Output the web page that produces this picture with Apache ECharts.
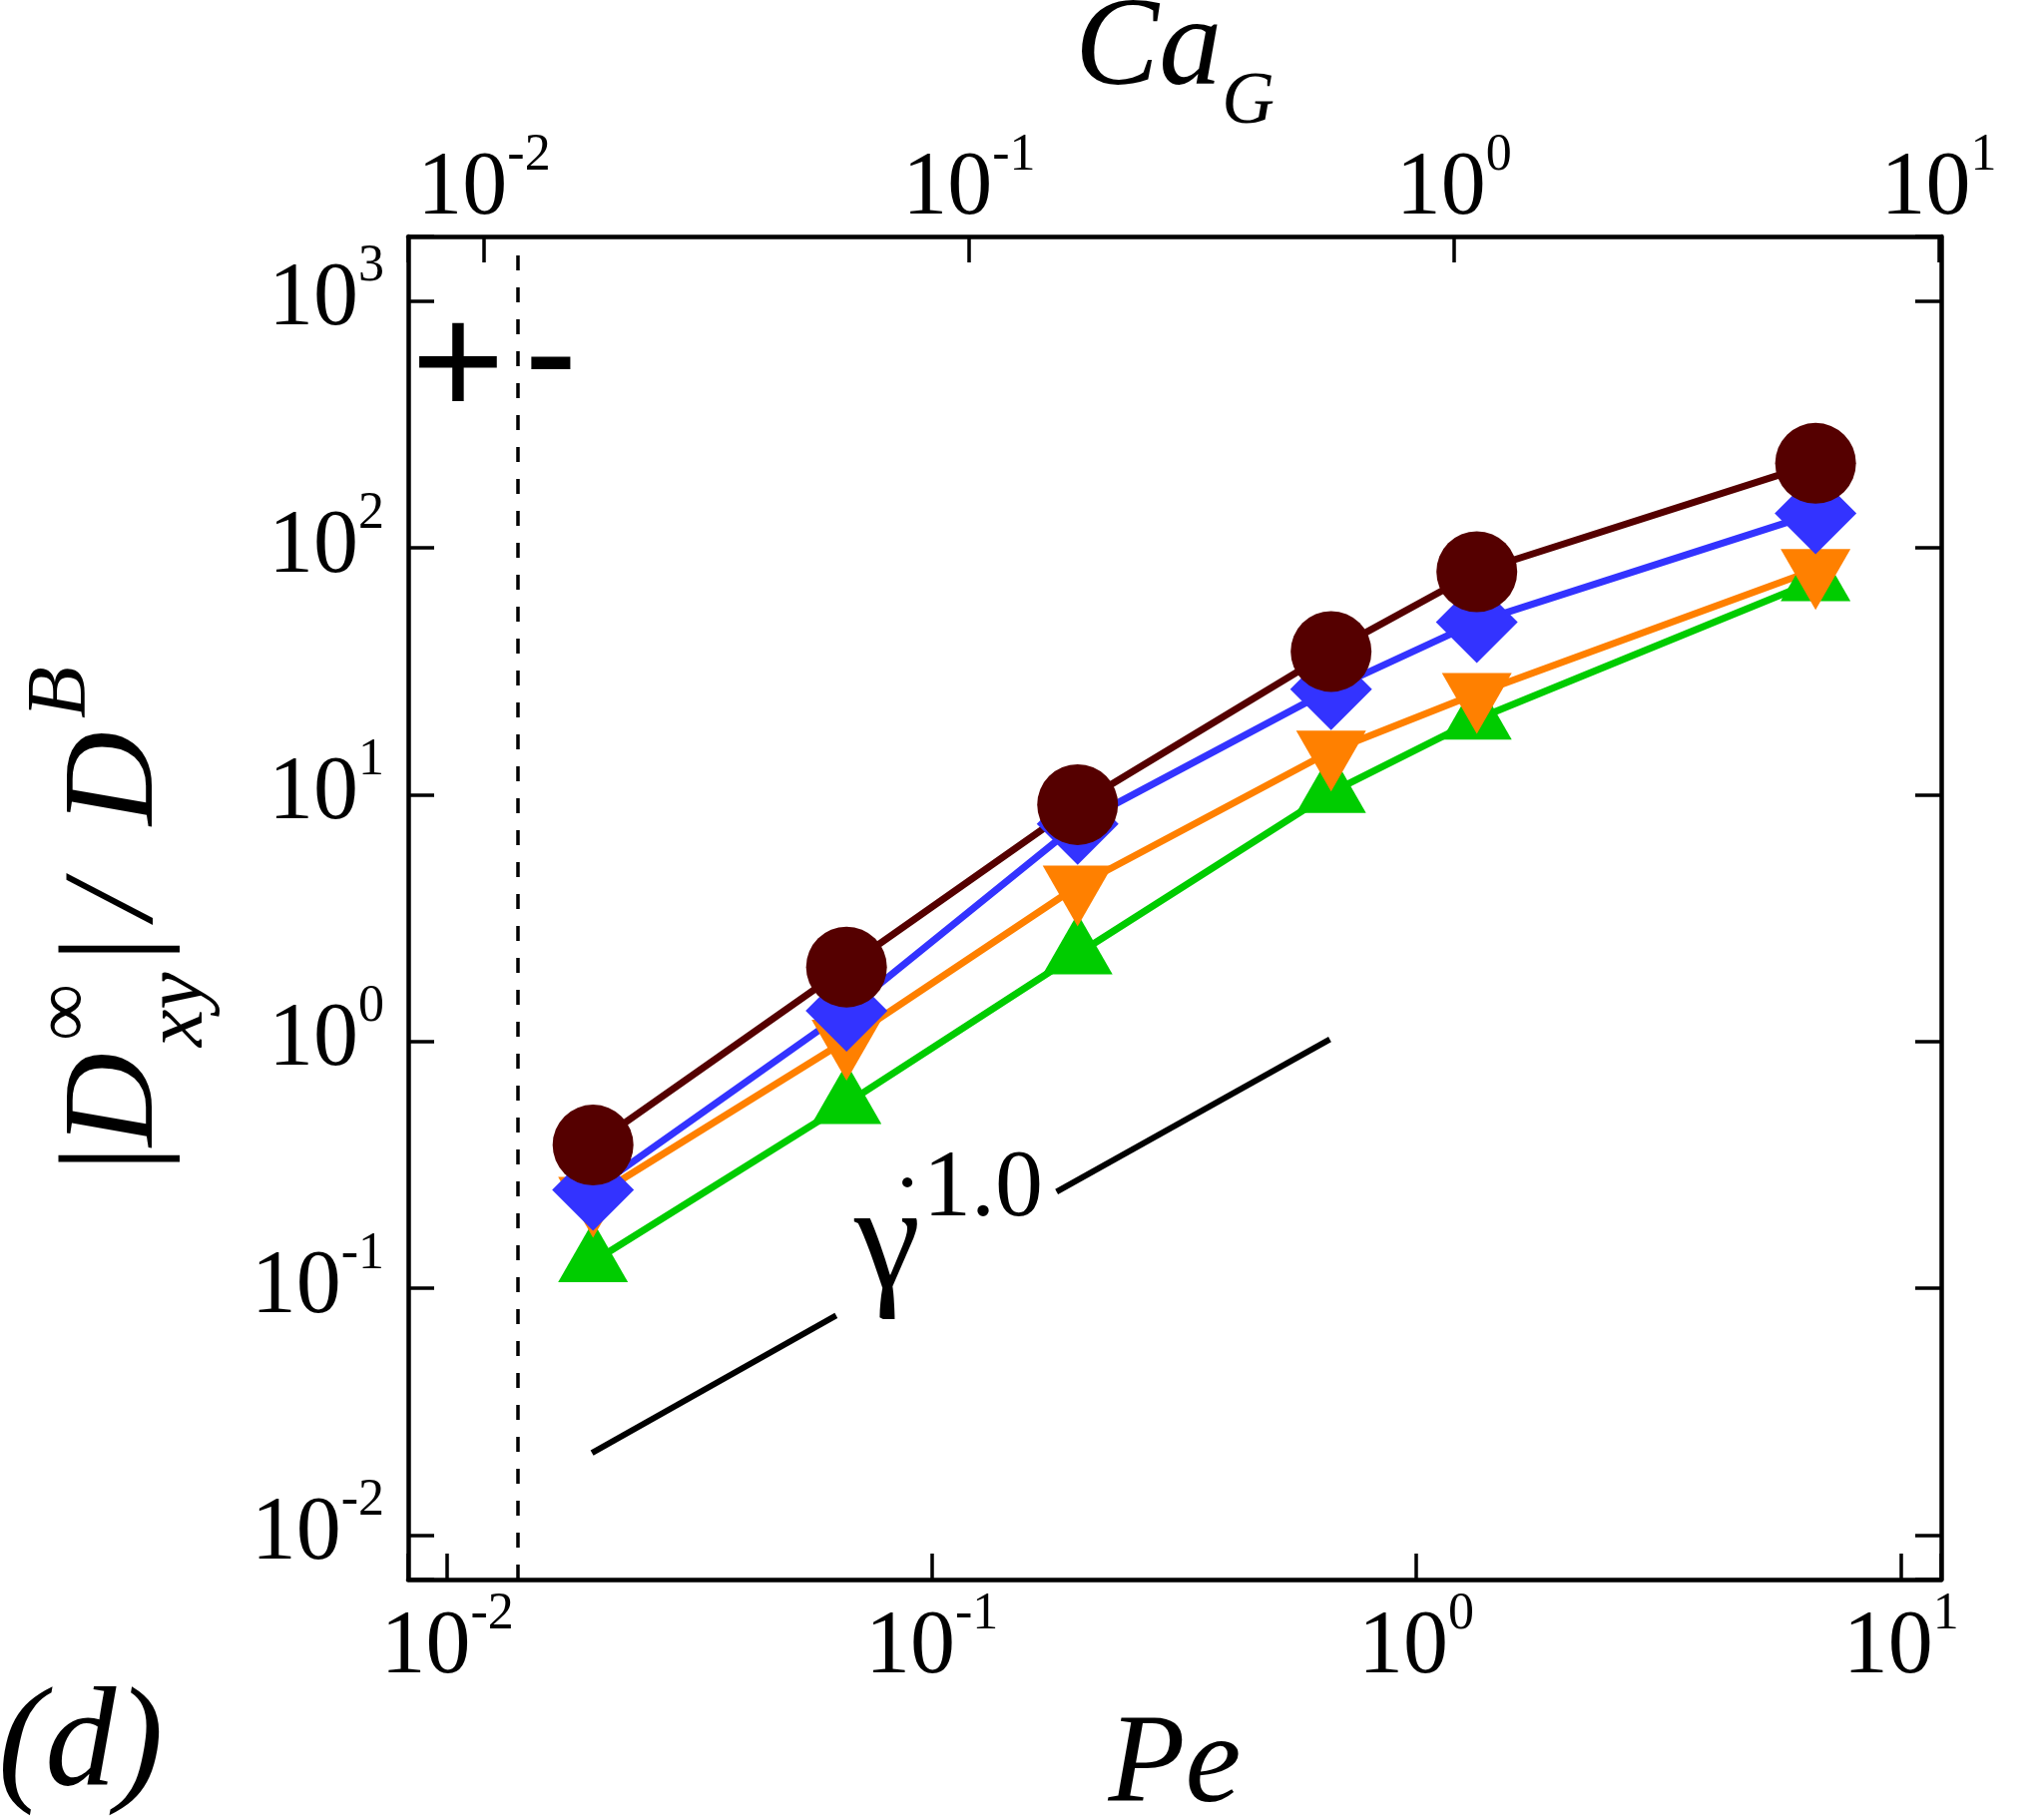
<!DOCTYPE html>
<html>
<head>
<meta charset="utf-8">
<script src="https://cdn.jsdelivr.net/npm/echarts@6.0.0/dist/echarts.min.js"></script>
<style>
html, body { margin: 0; padding: 0; background: #fff; }
#chart { width: 2048px; height: 1821px; }
</style>
</head>
<body>
<div id="chart"></div>
<script>
// Pe of the six runs
var peValues = [0.02, 0.0667, 0.2, 0.667, 1.333, 6.667];

// |Dxy| / DB, one list per data set
var circleValues = [0.38, 2.0, 9.1, 38, 80, 220];
var diamondValues = [0.25, 1.33, 7.6, 26.7, 50, 138];
var downTriValues = [0.233, 1.01, 4.26, 15.0, 25.7, 81.7];
var upTriValues = [0.128, 0.56, 2.26, 10.2, 20.2, 73.6];

// guide line, cut in two round its label
var slopeLower = [[0.0199, 0.0215], [0.0635, 0.0775]];
var slopeUpper = [[0.181, 0.246], [0.663, 1.02]];

// sign change of Dxy
var signChangePe = 0.014;

// axis ranges
var peRange = [0.00831, 12.11];
var caRange = [0.006975, 10.12];
var yRange = [0.006594, 1826];

var SERIF = 'Liberation Serif';

function pairs(xs, ys) {
    return xs.map(function (x, i) { return [x, ys[i]]; });
}

// 10^n labels, nothing for the non decade end ticks
function powLabel(v) {
    var e = Math.log10(v);
    var r = Math.round(e);
    if (Math.abs(e - r) > 1e-6) return '';
    return '{b|10}{s|' + (r < 0 ? '-' + (-r) : r) + '}';
}
var powRich = {
    b: { fontFamily: SERIF, fontSize: 90, lineHeight: 120, color: '#000' },
    s: { fontFamily: SERIF, fontSize: 52, lineHeight: 52, verticalAlign: 'top', color: '#000' }
};

var axisLineStyle = { color: '#000', width: 4.5 };
var tickStyle = { show: true, inside: true, length: 26, lineStyle: { color: '#000', width: 3.5 } };

function midY(baseline, size) {
    return baseline - 0.3375 * size;
}
// plain text piece for the graphic layer
function txt(str, x, y, size, italic, family, align) {
    return {
        type: 'text', x: x, y: y,
        style: {
            text: str, fill: '#000',
            fontFamily: family || SERIF, fontSize: size,
            fontStyle: italic ? 'italic' : 'normal',
            align: align || 'left', verticalAlign: 'middle'
        }
    };
}

var myChart = echarts.init(document.getElementById('chart'), null, { renderer: 'canvas' });

myChart.setOption({
    backgroundColor: '#fff',
    animation: false,
    grid: { left: 409, top: 237, right: 103, bottom: 238, containLabel: false, outerBoundsMode: 'none' },
    xAxis: [
        {
            type: 'log', logBase: 10, position: 'bottom',
            min: peRange[0], max: peRange[1],
            name: 'Pe', nameLocation: 'middle', nameGap: 126, nameMoveOverlap: false,
            nameTextStyle: { fontFamily: SERIF, fontStyle: 'italic', fontSize: 126, lineHeight: 126, color: '#000' },
            axisLine: { show: true, onZero: false, lineStyle: axisLineStyle },
            axisTick: tickStyle,
            minorTick: { show: false },
            splitLine: { show: false },
            axisLabel: { formatter: powLabel, rich: powRich, margin: 9 }
        },
        {
            type: 'log', logBase: 10, position: 'top',
            min: caRange[0], max: caRange[1],
            name: '{i|Ca}{g|G}', nameLocation: 'middle', nameGap: 97, nameMoveOverlap: false,
            nameTextStyle: {
                rich: {
                    i: { fontFamily: SERIF, fontStyle: 'italic', fontSize: 126, lineHeight: 126, verticalAlign: 'top', color: '#000' },
                    g: { fontFamily: SERIF, fontStyle: 'italic', fontSize: 73, lineHeight: 152, verticalAlign: 'bottom', color: '#000' }
                }
            },
            axisLine: { show: true, onZero: false, lineStyle: axisLineStyle },
            axisTick: tickStyle,
            minorTick: { show: false },
            splitLine: { show: false },
            axisLabel: { formatter: powLabel, rich: powRich, margin: -13 }
        }
    ],
    yAxis: [
        {
            type: 'log', logBase: 10, position: 'left',
            min: yRange[0], max: yRange[1],
            axisLine: { show: true, onZero: false, lineStyle: axisLineStyle },
            axisTick: tickStyle,
            minorTick: { show: false },
            splitLine: { show: false },
            axisLabel: { formatter: powLabel, rich: powRich, margin: 24 }
        },
        {
            type: 'log', logBase: 10, position: 'right',
            min: yRange[0], max: yRange[1],
            axisLine: { show: true, onZero: false, lineStyle: axisLineStyle },
            axisTick: tickStyle,
            minorTick: { show: false },
            splitLine: { show: false },
            axisLabel: { show: false }
        }
    ],
    series: [
        {
            name: 'sign change', type: 'line', silent: true, symbol: 'none',
            data: [[signChangePe, yRange[0]], [signChangePe, yRange[1]]],
            lineStyle: { color: '#000', width: 3.5, type: [15, 17] }
        },
        {
            name: 'slope a', type: 'line', silent: true, symbol: 'none',
            data: slopeLower,
            lineStyle: { color: '#000', width: 6 }
        },
        {
            name: 'slope b', type: 'line', silent: true, symbol: 'none',
            data: slopeUpper,
            lineStyle: { color: '#000', width: 6 }
        },
        {
            name: 'up', type: 'line',
            data: pairs(peValues, upTriValues),
            symbol: 'triangle', symbolSize: [70, 61], symbolOffset: [0, -10],
            itemStyle: { color: '#00CC00' },
            lineStyle: { color: '#00CC00', width: 7 }
        },
        {
            name: 'down', type: 'line',
            data: pairs(peValues, downTriValues),
            symbol: 'triangle', symbolRotate: 180, symbolSize: [70, 61], symbolOffset: [0, 10],
            itemStyle: { color: '#FF8000' },
            lineStyle: { color: '#FF8000', width: 7 }
        },
        {
            name: 'diamond', type: 'line',
            data: pairs(peValues, diamondValues),
            symbol: 'diamond', symbolSize: [82, 82],
            itemStyle: { color: '#3333FF' },
            lineStyle: { color: '#3333FF', width: 7 }
        },
        {
            name: 'circle', type: 'line',
            data: pairs(peValues, circleValues),
            symbol: 'circle', symbolSize: 81,
            itemStyle: { color: '#550000' },
            lineStyle: { color: '#550000', width: 7 }
        }
    ],
    graphic: [
        {
            // y title, read from bottom to top
            type: 'group', x: 162, y: 1161, rotation: Math.PI / 2,
            children: [
                txt('|', 0, midY(0, 134), 134, false, null, 'center'),
                txt('D', 12, midY(0, 130), 130, true),
                txt('∞', 118, -94, 80, false),
                txt('xy', 112, midY(46, 84), 84, true),
                txt('|', 210, midY(0, 134), 134, false, null, 'center'),
                txt('/', 240, midY(0, 130), 130, true),
                txt('D', 334, midY(0, 130), 130, true),
                txt('B', 441, midY(-71, 85), 85, true)
            ]
        },
        txt('+', 459, 372, 160, false, 'Liberation Sans', 'center'),
        txt('-', 552, 362, 160, false, 'Liberation Sans', 'center'),
        txt('γ', 856, midY(1301, 150), 150, false),
        txt('˙', 909, midY(1250, 96), 96, false, null, 'center'),
        txt('1.0', 925, midY(1225, 96), 96, false),
        txt('(d)', -2, midY(1800, 142), 142, true)
    ]
});
</script>
</body>
</html>
